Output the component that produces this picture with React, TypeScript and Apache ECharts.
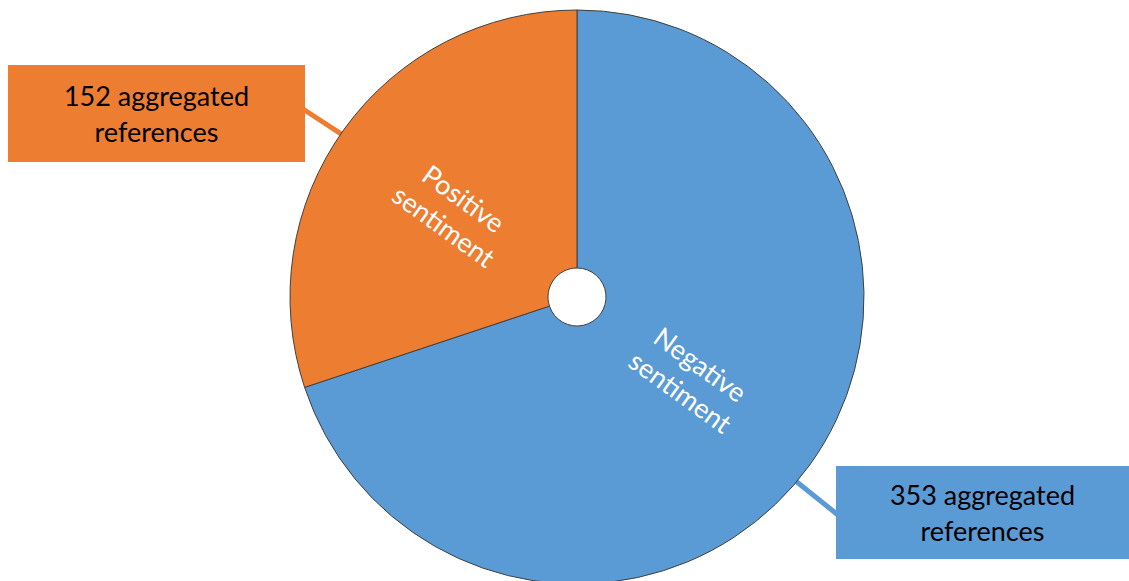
import React, { useEffect, useRef } from 'react';
import * as echarts from 'echarts';

const categories = ['Negative sentiment', 'Positive sentiment'];
const values = [353, 152];
const colors = ['#5B9BD5', '#ED7D31'];
const calloutText = 'aggregated\nreferences';

export default function App() {
  const ref = useRef<HTMLDivElement>(null);
  useEffect(() => {
    const chart = echarts.init(ref.current!, null, { renderer: 'svg' });
    const cx = 577, cy = 297, R = 287, R0 = 29;
    const boxes = [
      { x: 836, y: 466, w: 293, h: 93, ax: 836, ay: 515 },
      { x: 8, y: 65, w: 297, h: 97, ax: 305, ay: 109 },
    ];
    const graphic: any[] = [];
    boxes.forEach((b, i) => {
      const dx = b.ax - cx, dy = b.ay - cy;
      const d = Math.hypot(dx, dy);
      const px = cx + (dx * (R - 2)) / d, py = cy + (dy * (R - 2)) / d;
      graphic.push({ type: 'line', z: 1, silent: true, shape: { x1: px, y1: py, x2: b.ax + (i === 0 ? 2 : -2), y2: b.ay }, style: { stroke: colors[i], lineWidth: 5 } });
      graphic.push({ type: 'rect', z: 5, silent: true, shape: { x: b.x, y: b.y, width: b.w, height: b.h }, style: { fill: colors[i] } });
      graphic.push({
        type: 'text', z: 6, silent: true,
        x: b.x + b.w / 2, y: b.y + b.h / 2,
        style: {
          text: `${values[i]} ${calloutText}`,
          fill: '#000', fontSize: 27, fontFamily: 'Lato',
          align: 'center', verticalAlign: 'middle', textAlign: 'center', textVerticalAlign: 'middle',
          lineHeight: 36,
        },
      });
    });
    const data = categories.map((c, i) => ({ name: c, value: values[i], itemStyle: { color: colors[i] } }));
    chart.setOption({
      animation: false,
      graphic,
      series: [
        {
          type: 'pie', center: [cx, cy], radius: [R0, R], startAngle: 90, clockwise: true,
          data,
          itemStyle: { borderColor: '#404040', borderWidth: 1 },
          label: { show: false }, labelLine: { show: false }, silent: true, z: 2,
        },
        {
          type: 'pie', center: [cx, cy], radius: [0, 275], startAngle: 90, clockwise: true,
          data: categories.map((c, i) => ({ name: c, value: values[i] })),
          itemStyle: { color: 'rgba(0,0,0,0)', borderWidth: 0 },
          label: {
            show: true, position: 'inside', rotate: 'radial',
            formatter: (p: any) => p.name.replace(' ', '\n'),
            color: '#fff', fontSize: 27, fontFamily: 'Lato', lineHeight: 34,
          },
          labelLayout: (p: any) => (p.dataIndex === 1 ? { dx: -9, dy: 3 } : { dx: -1, dy: -1 }),
          labelLine: { show: false }, silent: true, z: 3,
        },
      ],
    });
    return () => chart.dispose();
  }, []);
  return <div ref={ref} style={{ position: 'absolute', left: 0, top: 0, width: 1129, height: 581, background: '#fff' }} />;
}
